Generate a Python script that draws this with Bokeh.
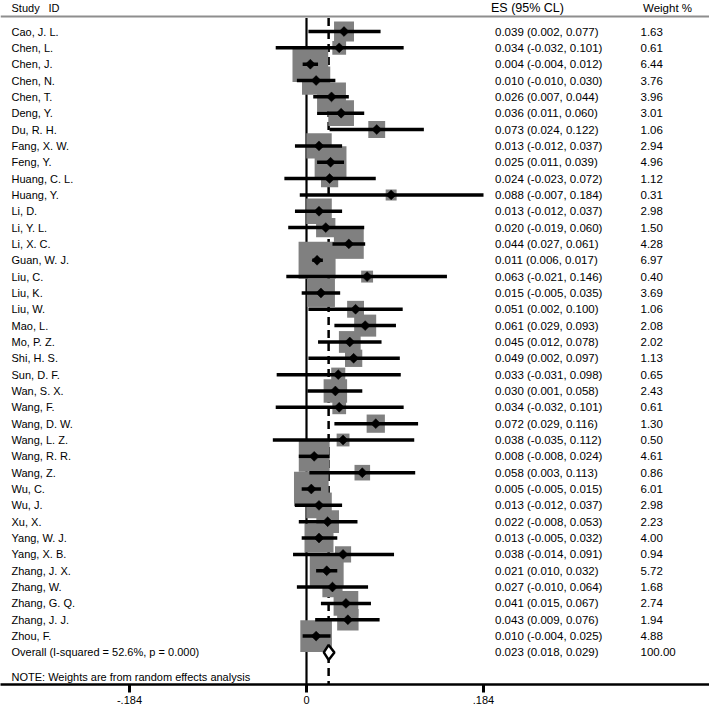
import numpy as np
from bokeh.plotting import figure
from bokeh.models import ColumnDataSource, Range1d, FixedTicker
from bokeh.core.properties import value
from bokeh.embed import file_html
from bokeh.resources import INLINE

# ---------------- data ----------------
studies = ["Cao, J. L.", "Chen, L.", "Chen, J.", "Chen, N.", "Chen, T.", "Deng, Y.",
           "Du, R. H.", "Fang, X. W.", "Feng, Y.", "Huang, C. L.", "Huang, Y.", "Li, D.",
           "Li, Y. L.", "Li, X. C.", "Guan, W. J.", "Liu, C.", "Liu, K.", "Liu, W.",
           "Mao, L.", "Mo, P. Z.", "Shi, H. S.", "Sun, D. F.", "Wan, S. X.", "Wang, F.",
           "Wang, D. W.", "Wang, L. Z.", "Wang, R. R.", "Wang, Z.", "Wu, C.", "Wu, J.",
           "Xu, X.", "Yang, W. J.", "Yang, X. B.", "Zhang, J. X.", "Zhang, W.",
           "Zhang, G. Q.", "Zhang, J. J.", "Zhou, F."]
es = [0.039, 0.034, 0.004, 0.010, 0.026, 0.036, 0.073, 0.013, 0.025, 0.024, 0.088, 0.013,
      0.020, 0.044, 0.011, 0.063, 0.015, 0.051, 0.061, 0.045, 0.049, 0.033, 0.030, 0.034,
      0.072, 0.038, 0.008, 0.058, 0.005, 0.013, 0.022, 0.013, 0.038, 0.021, 0.027, 0.041,
      0.043, 0.010]
lower = [0.002, -0.032, -0.004, -0.010, 0.007, 0.011, 0.024, -0.012, 0.011, -0.023, -0.007,
         -0.012, -0.019, 0.027, 0.006, -0.021, -0.005, 0.002, 0.029, 0.012, 0.002, -0.031,
         0.001, -0.032, 0.029, -0.035, -0.008, 0.003, -0.005, -0.012, -0.008, -0.005,
         -0.014, 0.010, -0.010, 0.015, 0.009, -0.004]
upper = [0.077, 0.101, 0.012, 0.030, 0.044, 0.060, 0.122, 0.037, 0.039, 0.072, 0.184,
         0.037, 0.060, 0.061, 0.017, 0.146, 0.035, 0.100, 0.093, 0.078, 0.097, 0.098,
         0.058, 0.101, 0.116, 0.112, 0.024, 0.113, 0.015, 0.037, 0.053, 0.032, 0.091,
         0.032, 0.064, 0.067, 0.076, 0.025]
weight = [1.63, 0.61, 6.44, 3.76, 3.96, 3.01, 1.06, 2.94, 4.96, 1.12, 0.31, 2.98, 1.50,
          4.28, 6.97, 0.40, 3.69, 1.06, 2.08, 2.02, 1.13, 0.65, 2.43, 0.61, 1.30, 0.50,
          4.61, 0.86, 6.01, 2.98, 2.23, 4.00, 0.94, 5.72, 1.68, 2.74, 1.94, 4.88]

overall_es = 0.023
overall_lo = 0.018
overall_hi = 0.029
overall_weight = 100.00
i_squared = 52.6
p_value = 0.000

tick_values = [-0.184, 0, 0.184]
tick_labels = ["-.184", "0", ".184"]

# ---------------- layout constants ----------------
FRAME_W, FRAME_H = 709, 684
ZERO_PX = 306
PX_PER_UNIT = 962.0
ROW0_PX = 31.0
ROW_PX = 16.34
FONT = value("Liberation Sans")
FS_NAME = "11px"
FS_NUM = "11.5px"
FS_ES_HEAD = "12.5px"

x_start = -ZERO_PX / PX_PER_UNIT
x_end = (FRAME_W - ZERO_PX) / PX_PER_UNIT
y_bottom = (FRAME_H - ROW0_PX) / ROW_PX
y_top = -ROW0_PX / ROW_PX


def xpx(px):
    return x_start + px / PX_PER_UNIT


def ypx(px):
    return (px - ROW0_PX) / ROW_PX


n = len(studies)
rows = list(range(n))
overall_row = n

p = figure(frame_width=FRAME_W, frame_height=FRAME_H,
           x_range=Range1d(x_start, x_end), y_range=Range1d(y_bottom, y_top),
           output_backend="svg", toolbar_location=None, y_axis_location=None,
           min_border=0, outline_line_color=None, background_fill_color="white",
           border_fill_color="white")
p.grid.visible = False

ax = p.xaxis[0]
ax.ticker = FixedTicker(ticks=tick_values)
ax.major_label_overrides = dict(zip(tick_values, tick_labels))
ax.axis_line_width = 2.6
ax.axis_line_color = "black"
ax.major_tick_line_width = 3
ax.major_tick_line_color = "black"
ax.major_tick_out = 8
ax.major_tick_in = 0
ax.minor_tick_out = 0
ax.minor_tick_in = 0
ax.major_label_standoff = 3
ax.major_label_text_font = "Liberation Sans"
ax.major_label_text_font_size = FS_NAME
ax.major_label_text_color = "black"

# header rule
header_y = ypx(16)
p.segment(x0=[x_start], x1=[x_end], y0=[header_y], y1=[header_y],
          line_color="#8e8e8e", line_width=2.2)

# zero line and overall dashed line
p.segment(x0=[0], x1=[0], y0=[ypx(17.5)], y1=[y_bottom],
          line_color="black", line_width=2.2)
p.segment(x0=[overall_es], x1=[overall_es], y0=[ypx(17.5)], y1=[y_bottom],
          line_color="black", line_width=2.5, line_dash="8 5")

src = ColumnDataSource(dict(
    y=rows, es=es, lo=lower, hi=upper, w=weight,
    box=[4 + 12.5 * np.sqrt(w) for w in weight],
    name=studies,
    est=[f"{e:.3f} ({l:.3f}, {h:.3f})" for e, l, h in zip(es, lower, upper)],
    wt=[f"{w:.2f}" for w in weight],
))

# weight boxes
p.scatter(x="es", y="y", size="box", marker="square", source=src,
          fill_color="#808080", line_color=None)
# confidence intervals
p.segment(x0="lo", x1="hi", y0="y", y1="y", source=src,
          line_color="black", line_width=3.5)
# point estimates
p.scatter(x="es", y="y", size=7, marker="square", angle=np.pi / 4, source=src,
          fill_color="black", line_color="black", line_width=0.5)

# overall diamond
h = 0.46
p.patch(x=[overall_lo, overall_es, overall_hi, overall_es],
        y=[overall_row, overall_row - h, overall_row, overall_row + h],
        fill_color="white", line_color="black", line_width=2.5)

# text columns
name_kw = dict(text_font=FONT, text_font_size=FS_NAME, text_baseline="middle",
               text_color="black", text_align="left")
num_kw = dict(name_kw, text_font_size=FS_NUM)
p.text(x=xpx(11), y="y", text="name", source=src, **name_kw)
p.text(x=xpx(494.5), y="y", text="est", source=src, **num_kw)
p.text(x=xpx(640), y="y", text="wt", source=src, **num_kw)

p.text(x=[xpx(11)], y=[overall_row],
       text=[f"Overall  (I-squared = {i_squared:.1f}%, p = {p_value:.3f})"], **name_kw)
p.text(x=[xpx(494.5)], y=[overall_row],
       text=[f"{overall_es:.3f} ({overall_lo:.3f}, {overall_hi:.3f})"], **num_kw)
p.text(x=[xpx(640)], y=[overall_row], text=[f"{overall_weight:.2f}"], **num_kw)

p.text(x=[xpx(11)], y=[ypx(676.5)],
       text=["NOTE: Weights are from random effects analysis"], **name_kw)

# headers
hy = ypx(7)
p.text(x=[xpx(11), xpx(48)], y=[hy] * 2, text=["Study", "ID"], **name_kw)
p.text(x=[xpx(490.5)], y=[hy], text=["ES (95% CL)"],
       **dict(name_kw, text_font_size=FS_ES_HEAD))
p.text(x=[xpx(642.5)], y=[hy], text=["Weight %"], **num_kw)

open("out.html", "w").write(file_html(p, INLINE))
